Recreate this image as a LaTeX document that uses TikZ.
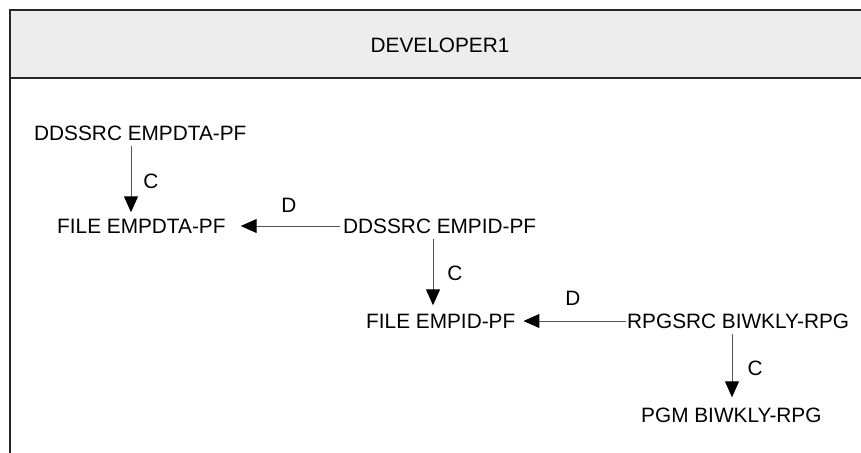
\documentclass[tikz,border=0pt]{standalone}
\usepackage{fontspec}
\setmainfont{Liberation Sans}
\usetikzlibrary{arrows.meta}
\definecolor{hdrfill}{HTML}{EDEDED}
\definecolor{frame}{HTML}{262626}
\definecolor{edge}{HTML}{555555}
\tikzset{
  lbl/.style={inner sep=0pt, anchor=west, text height=15pt, text depth=0pt, font=\fontsize{20.8}{24}\selectfont},
  tag/.style={inner sep=0pt, text height=15pt, text depth=0pt, font=\fontsize{20.8}{24}\selectfont},
  conn/.style={draw=edge, line width=1pt, -{Triangle[width=14pt,length=16pt,fill=black,color=black]}},
  framel/.style={draw=frame, line width=2pt}
}
\begin{document}
\begin{tikzpicture}[x=1pt,y=-1pt]
\useasboundingbox (0,0) rectangle (861,452);
% frame
\fill[hdrfill] (10,10) rectangle (875,78);
\draw[framel] (875,10) -- (10,10) -- (10,460);
\draw[framel] (10,78) -- (875,78);
\node[tag] (title) at (440,45) {DEVELOPER1};
% nodes
\node[lbl] (a) at (34,133) {DDSSRC EMPDTA-PF};
\node[lbl] (b) at (57,226) {FILE EMPDTA-PF};
\node[lbl] (c) at (343,226) {DDSSRC EMPID-PF};
\node[lbl] (d) at (366,321) {FILE EMPID-PF};
\node[lbl] (e) at (627,321) {RPGSRC BIWKLY-RPG};
\node[lbl] (f) at (641,415) {PGM BIWKLY-RPG};
% arrow columns
\coordinate (x1) at (131,0);
\coordinate (x2) at (433,0);
\coordinate (x3) at (732,0);
% connectors
\draw[conn] ([yshift=-5pt]a.south -| x1) -- ([yshift=6pt]b.north -| x1);
\draw[conn] ([xshift=-3pt]c.west) -- ([xshift=15pt]b.east);
\draw[conn] ([yshift=-5pt]c.south -| x2) -- ([yshift=8pt]d.north -| x2);
\draw[conn] ([xshift=-1pt]e.west) -- ([xshift=8pt]d.east);
\draw[conn] ([yshift=-5pt]e.south -| x3) -- ([yshift=10pt]f.north -| x3);
% labels
\node[tag] (l1) at (151,181) {C};
\node[tag] (l2) at (289,205) {D};
\node[tag] (l3) at (455,273) {C};
\node[tag] (l4) at (573,298) {D};
\node[tag] (l5) at (755,368) {C};
\end{tikzpicture}
\end{document}
